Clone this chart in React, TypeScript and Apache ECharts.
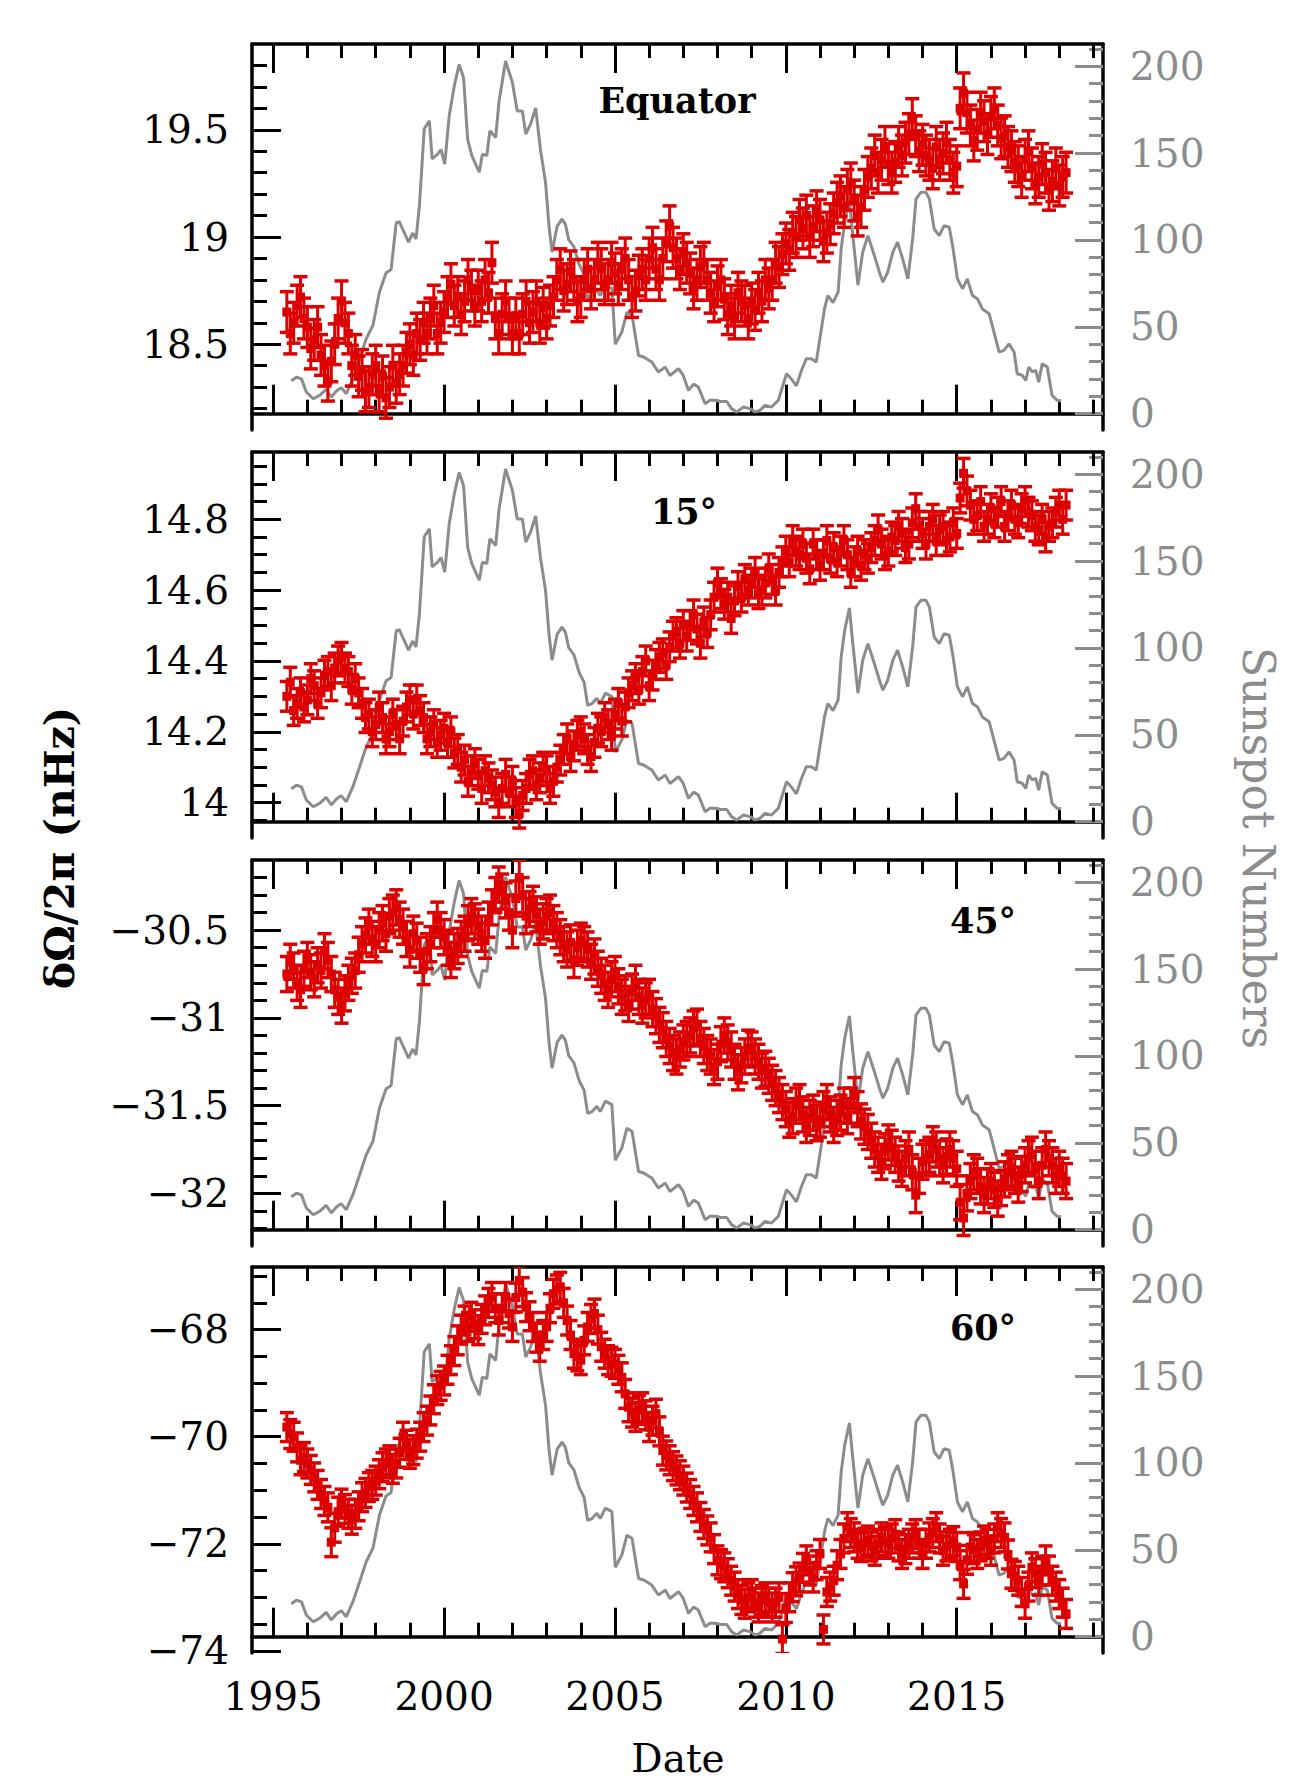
import React, { useEffect, useRef } from "react";
import * as echarts from "echarts";

// ---- data ----
const T0 = 1995.4; // first date of the rotation-rate series
const DT = 0.1; // cadence in years

const EQUATOR = [
  18.65, 18.55, 18.6, 18.68, 18.72, 18.62,
  18.58, 18.48, 18.52, 18.58, 18.45, 18.4, 18.33, 18.42, 18.5, 18.62,
  18.7, 18.6, 18.55, 18.4, 18.45, 18.35, 18.38, 18.28, 18.3, 18.36,
  18.4, 18.28, 18.35, 18.25, 18.3, 18.4, 18.32, 18.36, 18.4, 18.46,
  18.5, 18.45, 18.55, 18.52, 18.6, 18.55, 18.62, 18.68, 18.55, 18.6,
  18.65, 18.72, 18.78, 18.68, 18.72, 18.64, 18.7, 18.8, 18.75, 18.68,
  18.75, 18.7, 18.8, 18.74, 18.88, 18.62, 18.55, 18.64, 18.7, 18.62,
  18.55, 18.62, 18.55, 18.64, 18.7, 18.6, 18.65, 18.7, 18.6, 18.67,
  18.62, 18.68, 18.72, 18.8, 18.85, 18.75, 18.78, 18.84, 18.8, 18.7,
  18.72, 18.8, 18.85, 18.76, 18.8, 18.88, 18.85, 18.78, 18.8, 18.88,
  18.83, 18.78, 18.85, 18.9, 18.8, 18.72, 18.75, 18.82, 18.85, 18.8,
  18.9, 18.95, 18.85, 18.8, 18.9, 18.98, 19.05, 18.95, 18.9, 18.85,
  18.92, 18.88, 18.83, 18.76, 18.8, 18.86, 18.88, 18.8, 18.74, 18.7,
  18.77, 18.8, 18.71, 18.64, 18.68, 18.62, 18.74, 18.7, 18.68, 18.62,
  18.69, 18.66, 18.74, 18.7, 18.8, 18.76, 18.8, 18.88, 18.86, 18.92,
  18.97, 18.94, 19.02, 19.0, 19.08, 19.04, 19.1, 19.0, 19.05, 19.12,
  19.08, 18.98, 19.02, 19.06, 19.11, 19.16, 19.19, 19.14, 19.22, 19.25,
  19.17, 19.1, 19.14, 19.22, 19.28, 19.32, 19.38, 19.3, 19.36, 19.42,
  19.34, 19.3, 19.35, 19.42, 19.38, 19.44, 19.48, 19.55, 19.47, 19.4,
  19.43, 19.38, 19.36, 19.32, 19.42, 19.36, 19.39, 19.44, 19.36, 19.3,
  19.33, 19.6, 19.67, 19.58, 19.52, 19.45, 19.5, 19.58, 19.54, 19.48,
  19.56, 19.6, 19.52, 19.46, 19.47, 19.42, 19.4, 19.35, 19.33, 19.28,
  19.36, 19.4, 19.32, 19.25, 19.28, 19.34, 19.3, 19.22, 19.26, 19.32,
  19.24, 19.28, 19.3,
];

const LAT15 = [
  14.3, 14.34, 14.26, 14.28, 14.31, 14.27,
  14.29, 14.35, 14.33, 14.28, 14.31, 14.36, 14.37, 14.33, 14.38, 14.4,
  14.41, 14.38, 14.37, 14.32, 14.35, 14.31, 14.28, 14.24, 14.25, 14.2,
  14.22, 14.27, 14.24, 14.18, 14.2, 14.25, 14.22, 14.18, 14.23, 14.27,
  14.29, 14.25, 14.29, 14.26, 14.24, 14.18, 14.2, 14.22, 14.17, 14.19,
  14.21, 14.17, 14.2, 14.14, 14.15, 14.1, 14.12, 14.06, 14.09, 14.11,
  14.08, 14.04, 14.09, 14.07, 14.05, 14.03, 14.0, 14.04, 14.08, 14.03,
  14.06, 14.0, 13.97, 14.02, 14.04, 14.08, 14.09, 14.05, 14.07, 14.1,
  14.09, 14.04, 14.06, 14.1, 14.12, 14.15, 14.18, 14.13, 14.16, 14.19,
  14.2, 14.18, 14.15, 14.13, 14.17, 14.21, 14.2, 14.24, 14.22, 14.19,
  14.25, 14.28, 14.23, 14.27, 14.31, 14.33, 14.35, 14.32, 14.37, 14.4,
  14.33, 14.36, 14.39, 14.41, 14.42, 14.39, 14.44, 14.47, 14.48, 14.45,
  14.5, 14.47, 14.5, 14.53, 14.49, 14.45, 14.51, 14.48, 14.53, 14.58,
  14.62, 14.59, 14.56, 14.58, 14.52, 14.57, 14.61, 14.58, 14.63, 14.6,
  14.62, 14.65, 14.59, 14.6, 14.62, 14.66, 14.63, 14.6, 14.65, 14.68,
  14.71, 14.68, 14.74, 14.71, 14.7, 14.73, 14.69, 14.66, 14.73, 14.7,
  14.67, 14.7, 14.74, 14.69, 14.72, 14.68, 14.71, 14.74, 14.7, 14.65,
  14.68, 14.71, 14.67, 14.7, 14.69, 14.72, 14.74, 14.77, 14.73, 14.7,
  14.71, 14.75, 14.74, 14.78, 14.76, 14.72, 14.73, 14.79, 14.83, 14.78,
  14.76, 14.73, 14.78, 14.8, 14.74, 14.77, 14.78, 14.74, 14.75, 14.79,
  14.76, 14.86, 14.93, 14.88, 14.84, 14.8, 14.81, 14.85, 14.78, 14.8,
  14.83, 14.79, 14.82, 14.85, 14.78, 14.81, 14.84, 14.8, 14.79, 14.83,
  14.85, 14.82, 14.81, 14.78, 14.77, 14.8, 14.75, 14.78, 14.79, 14.82,
  14.84, 14.8, 14.84,
];

const LAT45 = [
  -30.75, -30.68, -30.73, -30.8, -30.84, -30.72,
  -30.67, -30.74, -30.78, -30.7, -30.73, -30.62, -30.67, -30.75, -30.84, -30.88,
  -30.93, -30.86, -30.8, -30.76, -30.73, -30.64, -30.58, -30.53, -30.48, -30.55,
  -30.58, -30.5, -30.46, -30.52, -30.42, -30.4, -30.37, -30.44, -30.48, -30.55,
  -30.61, -30.52, -30.56, -30.64, -30.71, -30.62, -30.58, -30.5, -30.44, -30.5,
  -30.54, -30.6, -30.67, -30.62, -30.59, -30.55, -30.52, -30.46, -30.42, -30.45,
  -30.48, -30.52, -30.56, -30.44, -30.37, -30.3, -30.24, -30.28, -30.33, -30.4,
  -30.5, -30.32, -30.2, -30.3, -30.42, -30.38, -30.35, -30.41, -30.48, -30.45,
  -30.42, -30.4, -30.46, -30.5, -30.54, -30.58, -30.61, -30.57, -30.67, -30.6,
  -30.56, -30.58, -30.61, -30.68, -30.65, -30.72, -30.76, -30.8, -30.84, -30.78,
  -30.75, -30.82, -30.88, -30.86, -30.92, -30.85, -30.8, -30.88, -30.93, -30.9,
  -30.88, -30.95, -30.99, -31.04, -31.07, -31.12, -31.16, -31.2, -31.22, -31.18,
  -31.14, -31.12, -31.1, -31.06, -31.05, -31.12, -31.16, -31.2, -31.22, -31.28,
  -31.25, -31.15, -31.1, -31.14, -31.18, -31.25, -31.31, -31.27, -31.22, -31.17,
  -31.18, -31.22, -31.25, -31.3, -31.29, -31.33, -31.37, -31.4, -31.44, -31.48,
  -31.52, -31.58, -31.56, -31.5, -31.48, -31.55, -31.61, -31.57, -31.54, -31.6,
  -31.58, -31.52, -31.48, -31.55, -31.61, -31.57, -31.54, -31.5, -31.56, -31.5,
  -31.44, -31.52, -31.59, -31.62, -31.65, -31.7, -31.75, -31.78, -31.82, -31.76,
  -31.71, -31.74, -31.78, -31.83, -31.86, -31.8, -31.75, -31.88, -32.01, -31.9,
  -31.82, -31.8, -31.78, -31.72, -31.75, -31.8, -31.84, -31.79, -31.75, -31.8,
  -31.86, -32.05, -32.14, -32.0, -31.93, -31.88, -31.9, -31.96, -32.01, -31.96,
  -31.93, -31.98, -32.03, -31.97, -31.92, -31.88, -31.86, -31.9, -31.95, -31.89,
  -31.84, -31.8, -31.78, -31.86, -31.93, -31.84, -31.75, -31.8, -31.84, -31.9,
  -31.86, -31.9, -31.93,
];

const LAT60 = [
  -69.82, -69.95, -70.0, -70.2, -70.44, -70.38,
  -70.5, -70.62, -70.76, -70.9, -71.07, -71.2, -71.32, -71.97, -71.7, -71.4,
  -71.25, -71.35, -71.44, -71.55, -71.44, -71.3, -71.13, -71.05, -70.94, -70.9,
  -70.82, -70.7, -70.57, -70.5, -70.44, -70.6, -70.5, -70.3, -70.0, -70.15,
  -70.32, -70.25, -70.13, -70.0, -69.82, -69.7, -69.51, -69.3, -69.13, -69.05,
  -68.95, -68.75, -68.57, -68.4, -68.2, -68.0, -67.83, -67.95, -67.76, -67.9,
  -68.01, -67.8, -67.64, -67.5, -67.39, -67.6, -67.83, -67.6, -67.39, -67.7,
  -67.95, -67.4, -67.08, -67.3, -67.58, -67.75, -67.95, -68.15, -68.32, -68.1,
  -67.95, -67.6, -67.33, -67.25, -67.2, -67.5, -67.83, -68.1, -68.45, -68.5,
  -68.57, -68.2, -67.95, -67.8, -67.7, -68.0, -68.32, -68.45, -68.57, -68.6,
  -68.64, -68.75, -68.89, -69.2, -69.45, -69.55, -69.63, -69.5, -69.45, -69.6,
  -69.82, -69.7, -69.57, -69.9, -70.26, -70.35, -70.44, -70.55, -70.63, -70.72,
  -70.82, -70.95, -71.07, -71.2, -71.32, -71.5, -71.63, -71.75, -71.88, -72.1,
  -72.31, -72.38, -72.44, -72.55, -72.69, -72.8, -72.94, -73.05, -73.12, -73.0,
  -72.94, -73.1, -73.19, -73.05, -73.0, -73.1, -73.19, -73.1, -73.0, -73.78,
  -73.2, -73.0, -72.81, -72.7, -72.63, -72.45, -72.31, -72.5, -72.63, -72.4,
  -72.19, -73.6, -72.9, -72.8, -72.69, -72.4, -72.19, -71.9, -71.69, -71.8,
  -71.88, -72.0, -72.06, -71.98, -71.94, -72.05, -72.13, -72.0, -71.88, -71.95,
  -72.0, -71.9, -71.82, -72.05, -72.19, -72.1, -72.0, -71.9, -71.82, -72.0,
  -72.19, -72.0, -71.88, -71.8, -71.69, -71.9, -72.13, -72.05, -72.0, -71.95,
  -72.06, -72.4, -72.75, -72.3, -72.06, -72.1, -72.19, -72.05, -71.94, -72.0,
  -72.13, -71.9, -71.69, -71.8, -71.88, -72.2, -72.56, -72.6, -72.69, -72.9,
  -73.12, -72.8, -72.44, -72.55, -72.69, -72.5, -72.31, -72.5, -72.69, -72.8,
  -72.94, -73.1, -73.31,
];

const ERRORS = [0.095, 0.042, 0.1, 0.27]; // half error-bar length per panel (nHz)

const SSN_T = [
  1995.53, 1995.68, 1995.83, 1995.97, 1996.17, 1996.36, 1996.55, 1996.7, 1996.85, 1996.99,
  1997.14, 1997.33, 1997.53, 1997.72, 1997.92, 1998.11, 1998.3, 1998.45, 1998.6, 1998.69,
  1998.84, 1998.96, 1999.08, 1999.18, 1999.28, 1999.42, 1999.57, 1999.65, 1999.81, 1999.91,
  2000.02, 2000.15, 2000.3, 2000.44, 2000.57, 2000.69, 2000.81, 2001.03, 2001.12, 2001.25,
  2001.34, 2001.51, 2001.61, 2001.8, 2002.0, 2002.14, 2002.29, 2002.39, 2002.53, 2002.68,
  2002.82, 2002.97, 2003.07, 2003.16, 2003.31, 2003.45, 2003.55, 2003.65, 2003.8, 2003.95,
  2004.1, 2004.2, 2004.33, 2004.47, 2004.57, 2004.72, 2004.91, 2005.01, 2005.2, 2005.35,
  2005.5, 2005.69, 2005.84, 2006.08, 2006.27, 2006.47, 2006.61, 2006.86, 2007.0, 2007.15,
  2007.3, 2007.44, 2007.64, 2007.78, 2007.93, 2008.07, 2008.27, 2008.41, 2008.56, 2008.76,
  2008.95, 2009.1, 2009.24, 2009.39, 2009.58, 2009.78, 2010.02, 2010.16, 2010.31, 2010.46,
  2010.6, 2010.75, 2010.89, 2011.04, 2011.14, 2011.23, 2011.38, 2011.53, 2011.62, 2011.72,
  2011.86, 2011.96, 2012.11, 2012.25, 2012.4, 2012.59, 2012.74, 2012.84, 2012.98, 2013.13,
  2013.27, 2013.42, 2013.57, 2013.71, 2013.81, 2013.95, 2014.1, 2014.2, 2014.34, 2014.49,
  2014.63, 2014.78, 2014.88, 2015.02, 2015.17, 2015.31, 2015.46, 2015.61, 2015.75, 2015.95,
  2016.09, 2016.24, 2016.38, 2016.53, 2016.68, 2016.77, 2016.92, 2017.02, 2017.11, 2017.21,
  2017.31, 2017.4, 2017.5, 2017.65, 2017.79, 2017.94, 2018.05,
];
const SSN_V = [
  19, 21, 20, 12.5, 8.6, 10.5, 14, 9.6, 13, 15,
  11.5, 20, 31.6, 43, 51, 70, 81, 83, 110, 110.5,
  104, 98.7, 104, 100.6, 120, 164, 168.6, 146.6, 149.4, 152,
  143.7, 171.5, 188.7, 201, 193.5, 158, 148.5, 139, 149.4, 148.5,
  162.8, 159, 180, 203, 190.6, 174.3, 174.3, 161, 166.7, 176,
  152, 133, 108, 93, 108, 112, 109, 100, 96, 86,
  80, 67, 68, 71, 68, 74, 72, 40, 47, 58.4,
  56.5, 33.5, 32.6, 29.7, 24, 26.8, 22, 25.9, 22, 13.4,
  17, 15.3, 5.7, 7.7, 7.7, 7, 7, 2.9, 1, 3.8,
  2.9, 1, 1.9, 4.8, 3.8, 7.7, 23, 20, 16, 25,
  31.6, 31.6, 29.7, 48.9, 61.3, 68, 64, 70, 95, 110,
  123, 102.5, 74, 93, 102.5, 91, 81.4, 75.7, 81.4, 93,
  98.7, 89, 77.6, 100.6, 123.6, 127.4, 127.4, 123.6, 106.3, 102.5,
  108.2, 107.3, 96.7, 77.6, 71.8, 77.6, 68, 66, 60.3, 57.5,
  46.9, 35.4, 36.4, 40.2, 35.4, 23, 22, 19.2, 26.8, 24,
  25, 18.2, 28.7, 26.8, 10.5, 7.7, 7.3,
];

const PANEL_LABELS = ["Equator", "15°", "45°", "60°"];
const X_RANGE = [1994.38, 2019.28];
const YEARS_MINOR = [
  1995, 1996, 1997, 1998, 1999, 2000, 2001, 2002, 2003, 2004, 2005, 2006, 2007,
  2008, 2009, 2010, 2011, 2012, 2013, 2014, 2015, 2016, 2017, 2018, 2019,
];
const YEARS_MAJOR = [1995, 2000, 2005, 2010, 2015];
const Y_RANGES = [
  [18.1, 19.9],
  [13.9, 14.99],
  [-32.3, -30.1],
  [-74.04, -66.83],
];
const Y_MAJOR = [
  [18.5, 19, 19.5],
  [14, 14.2, 14.4, 14.6, 14.8],
  [-32, -31.5, -31, -30.5],
  [-74, -72, -70, -68],
];
const Y_MINOR = [
  [18.2, 18.3, 18.4, 18.5, 18.6, 18.7, 18.8, 18.9, 19, 19.1, 19.2, 19.3, 19.4, 19.5, 19.6, 19.7, 19.8],
  [13.95, 14, 14.05, 14.1, 14.15, 14.2, 14.25, 14.3, 14.35, 14.4, 14.45, 14.5, 14.55, 14.6, 14.65, 14.7, 14.75, 14.8, 14.85, 14.9, 14.95],
  [-32.2, -32.1, -32, -31.9, -31.8, -31.7, -31.6, -31.5, -31.4, -31.3, -31.2, -31.1, -31, -30.9, -30.8, -30.7, -30.6, -30.5, -30.4, -30.3, -30.2],
  [-73.5, -73, -72.5, -72, -71.5, -71, -70.5, -70, -69.5, -69, -68.5, -68, -67.5, -67],
];
const SSN_RANGE = [-9.4, 212.8];
const SSN_MAJOR = [0, 50, 100, 150, 200];
const SSN_MINOR = [0, 10, 20, 30, 40, 50, 60, 70, 80, 90, 100, 110, 120, 130, 140, 150, 160, 170, 180, 190, 200, 210];

// ---- layout / style ----
const W = 1298;
const H = 1788;
const GRID_LEFT = 252;
const GRID_WIDTH = 851;
const GRID_TOPS = [44, 452, 860, 1267];
const GRID_HEIGHT = 386;
const LABEL_POS = [
  [677, 100],
  [684, 511],
  [983, 920],
  [983, 1327],
];
const RED = "#dc0000";
const GRAY = "#8c8c8c";
const FONT = '"DejaVu Serif", "Liberation Serif", serif';

const fmt = (v: number) => String(v).replace("-", "\u2212");

function buildOption() {
  const series = [EQUATOR, LAT15, LAT45, LAT60];
  const grid: any[] = [];
  const xAxis: any[] = [];
  const yAxis: any[] = [];
  const seriesList: any[] = [];
  const graphic: any[] = [];

  const axisLine = { show: true, lineStyle: { color: "#000", width: 3.5 } };
  const noLine = { show: false };

  series.forEach((vals, g) => {
    grid.push({ left: GRID_LEFT, top: GRID_TOPS[g], width: GRID_WIDTH, height: GRID_HEIGHT, containLabel: false });
    const xBase = {
      type: "value",
      gridIndex: g,
      min: X_RANGE[0],
      max: X_RANGE[1],
      splitLine: { show: false },
    };
    xAxis.push({
      ...xBase,
      position: "bottom",
      axisLine,
      axisTick: { show: true, inside: true, length: 14, customValues: YEARS_MINOR, lineStyle: { color: "#000", width: 3 } },
      axisLabel: { show: false },
    });
    xAxis.push({
      ...xBase,
      position: "bottom",
      axisLine: noLine,
      axisTick: { show: true, inside: true, length: 29, customValues: YEARS_MAJOR, lineStyle: { color: "#000", width: 3 } },
      axisLabel: {
        show: g === 3,
        customValues: YEARS_MAJOR,
        margin: 24,
        color: "#000",
        fontSize: 39,
        fontFamily: FONT,
        formatter: (v: number) => String(v),
      },
    });
    xAxis.push({
      ...xBase,
      position: "top",
      axisLine,
      axisTick: { show: true, inside: true, length: 14, customValues: YEARS_MINOR, lineStyle: { color: "#000", width: 3 } },
      axisLabel: { show: false },
    });
    xAxis.push({
      ...xBase,
      position: "top",
      axisLine: noLine,
      axisTick: { show: true, inside: true, length: 29, customValues: YEARS_MAJOR, lineStyle: { color: "#000", width: 3 } },
      axisLabel: { show: false },
    });

    const yBase = {
      type: "value",
      gridIndex: g,
      min: Y_RANGES[g][0],
      max: Y_RANGES[g][1],
      splitLine: { show: false },
    };
    yAxis.push({
      ...yBase,
      position: "left",
      axisLine,
      axisTick: { show: true, inside: true, length: 15, customValues: Y_MINOR[g], lineStyle: { color: "#000", width: 3 } },
      axisLabel: { show: false },
    });
    yAxis.push({
      ...yBase,
      position: "left",
      axisLine: noLine,
      axisTick: { show: true, inside: true, length: 29, customValues: Y_MAJOR[g], lineStyle: { color: "#000", width: 3 } },
      axisLabel: {
        show: true,
        customValues: Y_MAJOR[g],
        margin: 23,
        color: "#000",
        fontSize: 39,
        fontFamily: FONT,
        formatter: (v: number) => fmt(v),
      },
    });
    const sBase = {
      type: "value",
      gridIndex: g,
      min: SSN_RANGE[0],
      max: SSN_RANGE[1],
      splitLine: { show: false },
    };
    yAxis.push({
      ...sBase,
      position: "right",
      axisLine,
      axisTick: { show: true, inside: true, length: 14, customValues: SSN_MINOR, lineStyle: { color: GRAY, width: 3 } },
      axisLabel: { show: false },
    });
    yAxis.push({
      ...sBase,
      position: "right",
      axisLine: noLine,
      axisTick: { show: true, inside: true, length: 28, customValues: SSN_MAJOR, lineStyle: { color: GRAY, width: 3 } },
      axisLabel: {
        show: true,
        customValues: SSN_MAJOR,
        margin: 27,
        color: GRAY,
        fontSize: 39,
        fontFamily: FONT,
        formatter: (v: number) => String(v),
      },
    });

    seriesList.push({
      type: "line",
      xAxisIndex: g * 4,
      yAxisIndex: g * 4 + 2,
      data: SSN_T.map((t, i) => [t, SSN_V[i]]),
      showSymbol: false,
      symbol: "none",
      lineStyle: { color: GRAY, width: 3 },
      z: 2,
      silent: true,
    });

    const err = ERRORS[g];
    seriesList.push({
      type: "custom",
      xAxisIndex: g * 4,
      yAxisIndex: g * 4,
      clip: true,
      z: 3,
      silent: true,
      data: vals.map((v, i) => [Math.round((T0 + i * DT) * 100) / 100, v, err]),
      encode: { x: 0, y: 1 },
      renderItem: (params: any, api: any) => {
        const x = api.value(0);
        const y = api.value(1);
        const e = api.value(2);
        const p = api.coord([x, y]);
        const hi = api.coord([x, y + e]);
        const lo = api.coord([x, y - e]);
        const cw = 7;
        const ms = 9;
        return {
          type: "group",
          children: [
            { type: "line", shape: { x1: p[0], y1: hi[1], x2: p[0], y2: lo[1] }, style: { stroke: RED, lineWidth: 3 } },
            { type: "line", shape: { x1: p[0] - cw, y1: hi[1], x2: p[0] + cw, y2: hi[1] }, style: { stroke: RED, lineWidth: 3.5 } },
            { type: "line", shape: { x1: p[0] - cw, y1: lo[1], x2: p[0] + cw, y2: lo[1] }, style: { stroke: RED, lineWidth: 3.5 } },
            { type: "rect", shape: { x: p[0] - ms / 2, y: p[1] - ms / 2, width: ms, height: ms }, style: { fill: RED } },
          ],
        };
      },
    });

    graphic.push({
      type: "text",
      x: LABEL_POS[g][0],
      y: LABEL_POS[g][1],
      z: 10,
      style: {
        text: PANEL_LABELS[g],
        fill: "#000",
        font: `bold 35px ${FONT}`,
        textAlign: "center",
        textVerticalAlign: "middle",
        align: "center",
        verticalAlign: "middle",
      },
    });
  });

  graphic.push({
    type: "text",
    x: 60,
    y: 848,
    rotation: Math.PI / 2,
    style: {
      text: "δΩ/2π (nHz)",
      fill: "#000",
      font: `bold 41px ${FONT}`,
      textAlign: "center",
      textVerticalAlign: "middle",
      align: "center",
      verticalAlign: "middle",
    },
  });
  graphic.push({
    type: "text",
    x: 1258,
    y: 848,
    rotation: -Math.PI / 2,
    style: {
      text: "Sunspot Numbers",
      fill: GRAY,
      font: `44px ${FONT}`,
      textAlign: "center",
      textVerticalAlign: "middle",
      align: "center",
      verticalAlign: "middle",
    },
  });
  graphic.push({
    type: "text",
    x: 678,
    y: 1758,
    style: {
      text: "Date",
      fill: "#000",
      font: `39px ${FONT}`,
      textAlign: "center",
      textVerticalAlign: "middle",
      align: "center",
      verticalAlign: "middle",
    },
  });

  return {
    animation: false,
    backgroundColor: "#fff",
    grid,
    xAxis,
    yAxis,
    series: seriesList,
    graphic,
  };
}

export default function App() {
  const ref = useRef<HTMLDivElement>(null);
  useEffect(() => {
    if (!ref.current) return;
    const chart = echarts.init(ref.current, null, { renderer: "svg", width: W, height: H });
    chart.setOption(buildOption() as any);
    return () => chart.dispose();
  }, []);
  return (
    <div
      ref={ref}
      style={{ position: "absolute", left: 0, top: 0, width: W, height: H, background: "#fff" }}
    />
  );
}
